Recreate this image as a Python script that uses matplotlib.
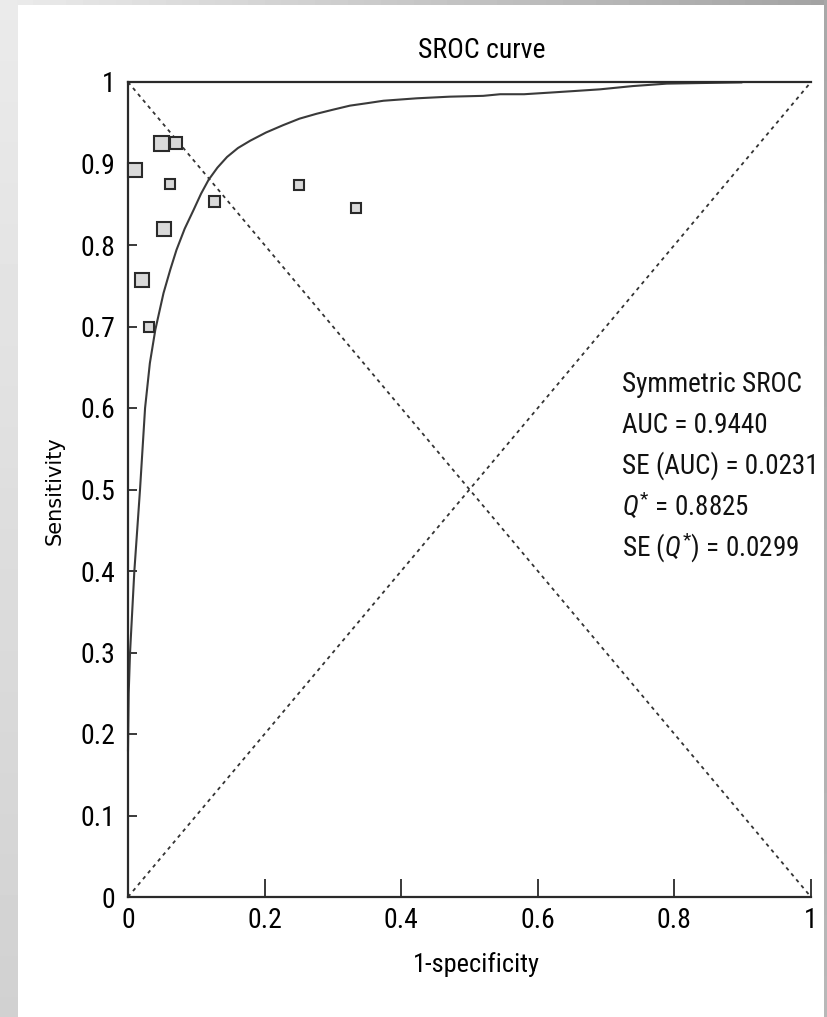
import numpy as np
import matplotlib
matplotlib.use("Agg")
import matplotlib.pyplot as plt

# study points (1-specificity, sensitivity) and box size (study weight, px)
fpr = [0.049, 0.071, 0.010, 0.062, 0.126, 0.250, 0.334, 0.053, 0.021, 0.031]
sens = [0.925, 0.925, 0.892, 0.875, 0.854, 0.874, 0.846, 0.820, 0.757, 0.700]
box_px = [15, 12.5, 14, 9.5, 11, 10, 10.5, 13.5, 14.5, 10.5]

# fitted symmetric SROC curve
curve_x = [0.0, 0.001, 0.003, 0.0093, 0.0176, 0.025, 0.032, 0.040, 0.052, 0.062,
           0.071, 0.083, 0.096, 0.107, 0.118, 0.131, 0.145, 0.161, 0.179, 0.202,
           0.227, 0.251, 0.276, 0.300, 0.325, 0.350, 0.374, 0.423, 0.471, 0.520,
           0.545, 0.580, 0.618, 0.655, 0.691, 0.739, 0.789, 0.837, 0.898]
curve_y = [0.18, 0.25, 0.30, 0.40, 0.50, 0.60, 0.655, 0.696, 0.741, 0.770,
           0.794, 0.820, 0.843, 0.863, 0.880, 0.895, 0.908, 0.919, 0.928, 0.938,
           0.947, 0.955, 0.961, 0.966, 0.971, 0.974, 0.977, 0.980, 0.982, 0.983,
           0.985, 0.985, 0.987, 0.989, 0.991, 0.995, 0.998, 0.9987, 0.9995]

xticks = [0, 0.2, 0.4, 0.6, 0.8, 1]
xticklabels = ["0", "0.2", "0.4", "0.6", "0.8", "1"]
yticks = [0, 0.1, 0.2, 0.3, 0.4, 0.5, 0.6, 0.7, 0.8, 0.9, 1]
yticklabels = ["0", "0.1", "0.2", "0.3", "0.4", "0.5", "0.6", "0.7", "0.8", "0.9", "1"]

stats_lines = ["Symmetric SROC", "AUC = 0.9440", "SE (AUC) = 0.0231",
               r"$Q^{*}$ = 0.8825", r"SE ($Q^{*}$) = 0.0299"]

narrow = ["Roboto Condensed", "Liberation Sans Narrow", "DejaVu Sans"]
plt.rcParams["mathtext.fontset"] = "custom"
plt.rcParams["mathtext.rm"] = "Roboto Condensed"
plt.rcParams["mathtext.it"] = "Roboto Condensed:italic"

W, H = 828, 1017
fig = plt.figure(figsize=(W / 100, H / 100), dpi=100)
fig.patch.set_facecolor("white")

# grey frame around the white panel
left_strip = fig.add_axes([0, 0, 18 / W, 1])
left_strip.imshow(np.linspace(0.92, 0.82, 50).reshape(-1, 1), cmap="gray",
                  vmin=0, vmax=1, aspect="auto")
left_strip.axis("off")
top_strip = fig.add_axes([0, 1 - 5 / H, 1, 5 / H])
top_strip.imshow(np.linspace(0.92, 0.64, 50).reshape(1, -1), cmap="gray",
                 vmin=0, vmax=1, aspect="auto")
top_strip.axis("off")
right_strip = fig.add_axes([1 - 4 / W, 0, 4 / W, 1])
right_strip.imshow(np.linspace(0.66, 0.72, 50).reshape(-1, 1), cmap="gray",
                   vmin=0, vmax=1, aspect="auto")
right_strip.axis("off")

ax = fig.add_axes([128 / W, 1 - 897 / H, 683 / W, 815 / H])
ax.set_xlim(0, 1)
ax.set_ylim(0, 1)

# diagonals
ax.plot([0, 1], [0, 1], color="#333333", lw=1.3, ls=(0, (2, 2.3)), zorder=1)
ax.plot([0, 1], [1, 0], color="#333333", lw=1.3, ls=(0, (2, 2.3)), zorder=1)

# SROC curve
ax.plot(curve_x, curve_y, color="#3a3a3a", lw=1.5, zorder=2, clip_on=False)

# study boxes
for xi, yi, s in zip(fpr, sens, box_px):
    ax.plot(xi, yi, marker="s", ms=s * 0.72, mfc="#d9d9d9", mec="#2a2a2a",
            mew=1.5, ls="none", zorder=3, clip_on=False)

for sp in ["left", "bottom", "top"]:
    ax.spines[sp].set_linewidth(1.6)
    ax.spines[sp].set_color("#2a2a2a")
ax.spines["right"].set_visible(False)

ax.set_xticks(xticks)
ax.set_xticklabels(xticklabels, family=narrow, fontsize=20)
ax.set_yticks(yticks)
ax.set_yticklabels(yticklabels, family=narrow, fontsize=20)
ax.tick_params(axis="x", direction="in", length=13, width=1.3, pad=7,
               color="#2a2a2a")
ax.tick_params(axis="y", direction="in", length=6.5, width=1.3, pad=9,
               color="#2a2a2a")

fig.text(482 / W, 1 - 50 / H, "SROC curve", family=narrow, fontsize=20,
         ha="center", va="center")
ax.set_xlabel("1-specificity", family=narrow, fontsize=19)
ax.xaxis.set_label_coords(0.51, -0.0834)
ax.xaxis.label.set_va("center")
fig.text(55 / W, 1 - 491 / H, "Sensitivity", rotation=90, ha="center",
         va="center", family="DejaVu Sans", fontsize=15)

for i, line in enumerate(stats_lines):
    ax.text(0.723, 0.62 - i * 0.0505, line, family=narrow, fontsize=19.5,
            ha="left", va="baseline", color="#111111")

fig.savefig("out.png", dpi=100, facecolor=fig.get_facecolor())
